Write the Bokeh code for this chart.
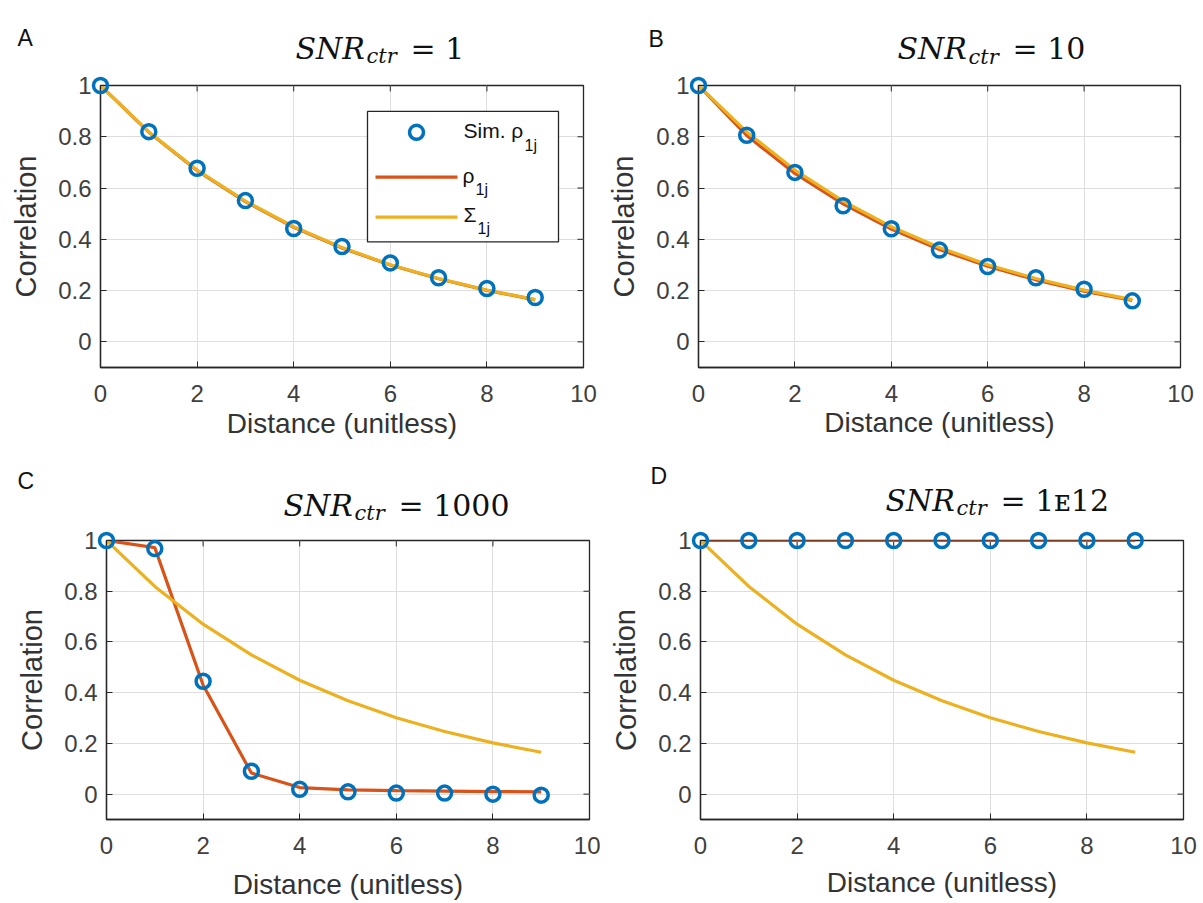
import math
from bokeh.plotting import figure
from bokeh.models import Label, BoxAnnotation, FixedTicker, Range1d, ColumnDataSource
from bokeh.layouts import column, row
from bokeh.embed import file_html
from bokeh.resources import INLINE

# ---------------- data ----------------
distance = [0, 1, 2, 3, 4, 5, 6, 7, 8, 9]
sigma_1j = [1.0, 0.819, 0.670, 0.549, 0.449, 0.368, 0.301, 0.247, 0.202, 0.165]

sim_A = [1.0, 0.820, 0.677, 0.551, 0.442, 0.372, 0.308, 0.250, 0.208, 0.173]
rho_A = [1.0, 0.818, 0.668, 0.547, 0.447, 0.366, 0.300, 0.246, 0.201, 0.164]

sim_B = [1.0, 0.806, 0.661, 0.531, 0.441, 0.358, 0.294, 0.250, 0.205, 0.160]
rho_B = [1.0, 0.805, 0.657, 0.538, 0.440, 0.360, 0.295, 0.242, 0.198, 0.162]

sim_C = [1.0, 0.968, 0.445, 0.090, 0.019, 0.009, 0.004, 0.004, 0.000, -0.004]
rho_C = [1.0, 0.972, 0.430, 0.083, 0.026, 0.017, 0.014, 0.012, 0.010, 0.009]

sim_D = [1.0, 1.0, 1.0, 1.0, 1.0, 1.0, 1.0, 1.0, 1.0, 1.0]
rho_D = [1.0, 1.0, 1.0, 1.0, 1.0, 1.0, 1.0, 1.0, 1.0, 1.0]

snr_values = ["1", "10", "1000", "1\u1d0712"]
panel_letters = ["A", "B", "C", "D"]
x_ticks = [0, 2, 4, 6, 8, 10]
y_ticks = [0, 0.2, 0.4, 0.6, 0.8, 1]
y_tick_text = ["0", "0.2", "0.4", "0.6", "0.8", "1"]
x_label = "Distance (unitless)"
y_label = "Correlation"
legend_labels = ["Sim. \u03c1", "\u03c1", "\u03a3"]
legend_sub = "1j"

# ---------------- style / layout ----------------
BLUE = "#0072BD"
ORANGE = "#D95319"
YELLOW = "#EDB120"
AX = "#262626"
TICK_TXT = "#404040"
LBL_TXT = "#333333"
DARK = "#111111"
SANS = "Liberation Sans"
SERIF = "DejaVu Serif"
X0, X1 = 0, 10
Y0, Y1 = -0.1, 1.0

# page-pixel geometry: figure origin, figure size, frame box (L, T, R, B)
layout_info = [
    dict(origin=(0, 0), size=(600, 455), frame=(100, 85, 583, 368),
         letter=(17, 38), title=(295, 48), xlab=423),
    dict(origin=(600, 0), size=(600, 455), frame=(698, 85, 1180, 367),
         letter=(648, 38), title=(897, 48), xlab=422),
    dict(origin=(0, 455), size=(600, 447), frame=(106, 535, 589, 819),
         letter=(17, 478), title=(283, 502), xlab=881),
    dict(origin=(600, 455), size=(600, 447), frame=(700, 540, 1183, 824),
         letter=(650, 478), title=(885, 502), xlab=884),
]

series = [(sim_A, rho_A), (sim_B, rho_B), (sim_C, rho_C), (sim_D, rho_D)]


def make_panel(i):
    info = layout_info[i]
    ox, oy = info["origin"]
    w, h = info["size"]
    L, T, R, B = info["frame"]

    def px(xp):
        return X0 + (xp - L) / (R - L) * (X1 - X0)

    def py(yp):
        return Y1 - (yp - T) / (B - T) * (Y1 - Y0)

    p = figure(width=w, height=h, x_range=Range1d(X0, X1), y_range=Range1d(Y0, Y1),
               output_backend="svg", toolbar_location=None,
               min_border_left=L - ox, min_border_right=ox + w - R,
               min_border_top=T - oy, min_border_bottom=oy + h - B)
    p.title.visible = False
    p.background_fill_color = "white"
    p.border_fill_color = "white"
    p.outline_line_color = AX
    p.outline_line_width = 1.3

    for ax in (p.xaxis[0], p.yaxis[0]):
        ax.major_tick_in = 6
        ax.major_tick_out = 0
        ax.minor_tick_line_color = None
        ax.major_tick_line_color = AX
        ax.axis_line_color = AX
        ax.axis_line_width = 1.3
        ax.major_label_text_font = SANS
        ax.major_label_text_font_size = "24px"
        ax.major_label_text_color = TICK_TXT
    p.xaxis[0].ticker = FixedTicker(ticks=x_ticks)
    p.yaxis[0].ticker = FixedTicker(ticks=y_ticks)
    p.xaxis[0].major_label_standoff = 17
    p.yaxis[0].major_label_standoff = 9
    p.yaxis[0].major_label_overrides = {t: s for t, s in zip(y_ticks, y_tick_text)}

    p.xgrid.ticker = FixedTicker(ticks=x_ticks)
    p.ygrid.ticker = FixedTicker(ticks=y_ticks)
    p.xgrid.grid_line_color = "#dedede"
    p.ygrid.grid_line_color = "#dedede"

    # inward ticks on the top and right edges (box on)
    top_y = [py(T + 6)] * len(x_ticks)
    p.segment(x0=x_ticks, y0=[Y1] * len(x_ticks), x1=x_ticks, y1=top_y,
              line_color=AX, line_width=1)
    right_x = [px(R - 6)] * len(y_ticks)
    p.segment(x0=[X1] * len(y_ticks), y0=y_ticks, x1=right_x, y1=y_ticks,
              line_color=AX, line_width=1)

    sim, rho = series[i]
    p.line(distance, rho, line_color=ORANGE, line_width=3.2)
    p.line(distance, sigma_1j, line_color=YELLOW, line_width=3.2)
    r = p.scatter(distance, sim, marker="circle", size=14, fill_color=None,
                  line_color=BLUE, line_width=3.5)
    r.level = "overlay"

    # ---- texts outside the frame: anchored at frame centre, shifted in pixels ----
    cx, cy = (L + R) / 2, (T + B) / 2
    lx, ly = info["letter"]
    tx, tb = info["title"]
    items = [
        # (page x, page y, text, font, size, style, color, align, baseline, angle)
        (cx, info["xlab"], x_label, SANS, "28px", "normal", LBL_TXT, "center", "middle", 0.0),
        (L - 75, cy, y_label, SANS, "29px", "normal", LBL_TXT, "center", "middle", math.pi / 2),
        (lx, ly, panel_letters[i], SANS, "23px", "normal", DARK, "left", "alphabetic", 0.0),
        (tx, tb, "SNR", SERIF, "30px", "italic", DARK, "left", "alphabetic", 0.0),
        (tx + 71, tb + 8, "ctr", SERIF, "21px", "italic", DARK, "left", "alphabetic", 0.0),
        (tx + 115, tb, "= " + snr_values[i], SERIF, "30px", "normal", DARK, "left",
         "alphabetic", 0.0),
    ]
    src = ColumnDataSource(dict(
        x=[(X0 + X1) / 2] * len(items),
        y=[(Y0 + Y1) / 2] * len(items),
        xo=[it[0] - cx for it in items],
        yo=[it[1] - cy for it in items],
        text=[it[2] for it in items],
        font=[it[3] for it in items],
        size=[it[4] for it in items],
        style=[it[5] for it in items],
        color=[it[6] for it in items],
        align=[it[7] for it in items],
        baseline=[it[8] for it in items],
        angle=[it[9] for it in items],
    ))
    tr = p.text(x="x", y="y", text="text", x_offset="xo", y_offset="yo",
                text_font="font", text_font_size="size", text_font_style="style",
                text_color="color", text_align="align", text_baseline="baseline",
                angle="angle", source=src)
    tr.level = "overlay"

    if i == 0:
        # legend box
        box = BoxAnnotation(left=px(367), right=px(558), top=py(111), bottom=py(242),
                            fill_color="white", fill_alpha=1.0,
                            line_color=AX, line_alpha=1.0, line_width=1.3)
        box.level = "annotation"
        p.add_layout(box)
        rs = p.scatter([px(416)], [py(132)], marker="circle", size=14, fill_color=None,
                       line_color=BLUE, line_width=3.5)
        rs.level = "overlay"
        for yy, col in ((177, ORANGE), (217, YELLOW)):
            rl = p.line([px(375), px(457)], [py(yy), py(yy)], line_color=col, line_width=3.2)
            rl.level = "overlay"
        entries = [(463, 130, 524, 145), (462, 175, 475, 189), (463, 214, 477, 229)]
        for (mx, my, sx, sy), txt in zip(entries, legend_labels):
            for xx, yy, t, fs in ((mx, my, txt, "21px"), (sx, sy, legend_sub, "16px")):
                lab = Label(x=px(xx), y=py(yy), text=t, text_font=SANS, text_font_size=fs,
                            text_color=DARK, text_align="left", text_baseline="middle")
                lab.level = "overlay"
                p.add_layout(lab)
    return p


panels = [make_panel(i) for i in range(4)]
layout = column(row(panels[0], panels[1]), row(panels[2], panels[3]))

with open("out.html", "w") as f:
    f.write(file_html(layout, INLINE))
